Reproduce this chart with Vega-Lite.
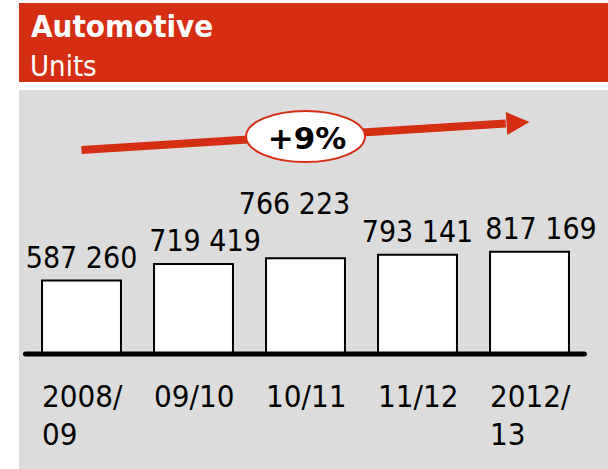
{
  "$schema": "https://vega.github.io/schema/vega-lite/v6.json",
  "background": "white",
  "padding": {"left": 19, "top": 3, "right": 0, "bottom": 0},
  "spacing": 7,
  "datasets": {
    "header": [{"title": "Automotive", "unit": "Units"}],
    "units": [
      {"period": "2008/09", "label": "2008/\n09", "units": 587260},
      {"period": "09/10", "label": "09/10", "units": 719419},
      {"period": "10/11", "label": "10/11", "units": 766223},
      {"period": "11/12", "label": "11/12", "units": 793141},
      {"period": "2012/13", "label": "2012/\n13", "units": 817169}
    ],
    "growth": [{"label": "+9%"}]
  },
  "vconcat": [
    {
      "width": 589,
      "height": 79,
      "view": {"fill": "#D52E12", "stroke": null},
      "data": {"name": "header"},
      "encoding": {
        "x": {"datum": 0, "type": "quantitative", "scale": {"domain": [0, 1]}, "axis": null}
      },
      "layer": [
        {
          "mark": {"type": "text", "align": "left", "baseline": "alphabetic", "color": "white", "font": "DejaVu Sans Condensed", "fontWeight": "bold", "fontSize": 31, "dx": 12},
          "encoding": {
            "y": {"datum": 0.5696, "type": "quantitative", "scale": {"domain": [0, 1]}, "axis": null},
            "text": {"field": "title"}
          }
        },
        {
          "mark": {"type": "text", "align": "left", "baseline": "alphabetic", "color": "white", "font": "DejaVu Sans Condensed", "fontWeight": "normal", "fontSize": 29, "dx": 11},
          "encoding": {
            "y": {"datum": 0.0759, "type": "quantitative"},
            "text": {"field": "unit"}
          }
        }
      ]
    },
    {
      "width": 589,
      "height": 380,
      "view": {"fill": "#DCDCDC", "stroke": null},
      "data": {"name": "units"},
      "encoding": {
        "x": {
          "field": "period", "type": "nominal", "sort": null, "axis": null,
          "scale": {"domain": ["2008/09", "09/10", "10/11", "11/12", "2012/13"], "paddingInner": 0.295, "paddingOuter": 0.277, "align": 0.371}
        }
      },
      "layer": [
        {
          "mark": {"type": "bar", "fill": "white", "stroke": "black", "strokeWidth": 2},
          "encoding": {
            "y": {"field": "units", "type": "quantitative", "scale": {"domain": [-928000, 2112000], "nice": false, "zero": false}, "axis": null},
            "y2": {"datum": 0}
          }
        },
        {
          "data": {"name": "growth"},
          "mark": {"type": "rule", "strokeWidth": 5, "strokeCap": "round", "color": "black"},
          "encoding": {
            "x": {"datum": "2008/09", "bandPosition": -0.21},
            "x2": {"datum": "2012/13", "bandPosition": 1.196},
            "y": {"datum": 0}
          }
        },
        {
          "transform": [{"filter": {"field": "period", "oneOf": ["2008/09", "11/12"]}}],
          "mark": {"type": "text", "font": "DejaVu Sans Condensed", "fontSize": 30, "baseline": "alphabetic", "dy": -13, "color": "black"},
          "encoding": {
            "y": {"field": "units", "type": "quantitative"},
            "text": {"field": "units", "type": "quantitative", "format": ",d"}
          }
        },
        {
          "transform": [{"filter": {"field": "period", "oneOf": ["09/10", "2012/13"]}}],
          "mark": {"type": "text", "font": "DejaVu Sans Condensed", "fontSize": 30, "baseline": "alphabetic", "dy": -13, "dx": 11.5, "color": "black"},
          "encoding": {
            "y": {"field": "units", "type": "quantitative"},
            "text": {"field": "units", "type": "quantitative", "format": ",d"}
          }
        },
        {
          "transform": [{"filter": {"field": "period", "oneOf": ["10/11"]}}],
          "mark": {"type": "text", "font": "DejaVu Sans Condensed", "fontSize": 30, "baseline": "alphabetic", "dy": -44, "dx": -11, "color": "black"},
          "encoding": {
            "y": {"field": "units", "type": "quantitative"},
            "text": {"field": "units", "type": "quantitative", "format": ",d"}
          }
        },
        {
          "mark": {"type": "text", "font": "DejaVu Sans Condensed", "fontSize": 31, "align": "left", "baseline": "alphabetic", "lineBreak": "\n", "lineHeight": 38, "color": "black"},
          "encoding": {
            "x": {"field": "period", "type": "nominal", "bandPosition": 0},
            "y": {"datum": -424000},
            "text": {"field": "label"}
          }
        },
        {
          "data": {"name": "growth"},
          "mark": {"type": "rule", "color": "#D52E12", "strokeWidth": 8},
          "encoding": {
            "x": {"datum": "2008/09", "bandPosition": 0.5},
            "x2": {"datum": "2012/13", "bandPosition": 0.2},
            "y": {"datum": 1632000},
            "y2": {"datum": 1844000}
          }
        },
        {
          "data": {"name": "growth"},
          "mark": {"type": "point", "shape": "M -2 -1 L 0 0 L -2 1 Z", "size": 529, "angle": -3.6, "filled": true, "fill": "#D52E12", "opacity": 1, "strokeWidth": 0},
          "encoding": {
            "x": {"datum": "2012/13", "bandPosition": 0.5},
            "y": {"datum": 1856000}
          }
        },
        {
          "data": {"name": "growth"},
          "mark": {"type": "point", "shape": "M -1 0 A 1 0.43 0 1 1 1 0 A 1 0.43 0 1 1 -1 0 Z", "size": 14161, "filled": true, "fill": "white", "stroke": "#D52E12", "strokeWidth": 2, "opacity": 1},
          "encoding": {
            "x": {"datum": "10/11", "bandPosition": 0.5},
            "y": {"datum": 1740000}
          }
        },
        {
          "data": {"name": "growth"},
          "mark": {"type": "text", "font": "DejaVu Sans", "fontWeight": "bold", "fontSize": 31, "align": "center", "baseline": "alphabetic", "dx": 1.5, "color": "black"},
          "encoding": {
            "x": {"datum": "10/11", "bandPosition": 0.5},
            "y": {"datum": 1640000},
            "text": {"field": "label"}
          }
        }
      ]
    }
  ],
  "config": {
    "view": {"stroke": null},
    "locale": {"number": {"decimal": ",", "thousands": " ", "grouping": [3], "currency": ["", ""]}}
  }
}
